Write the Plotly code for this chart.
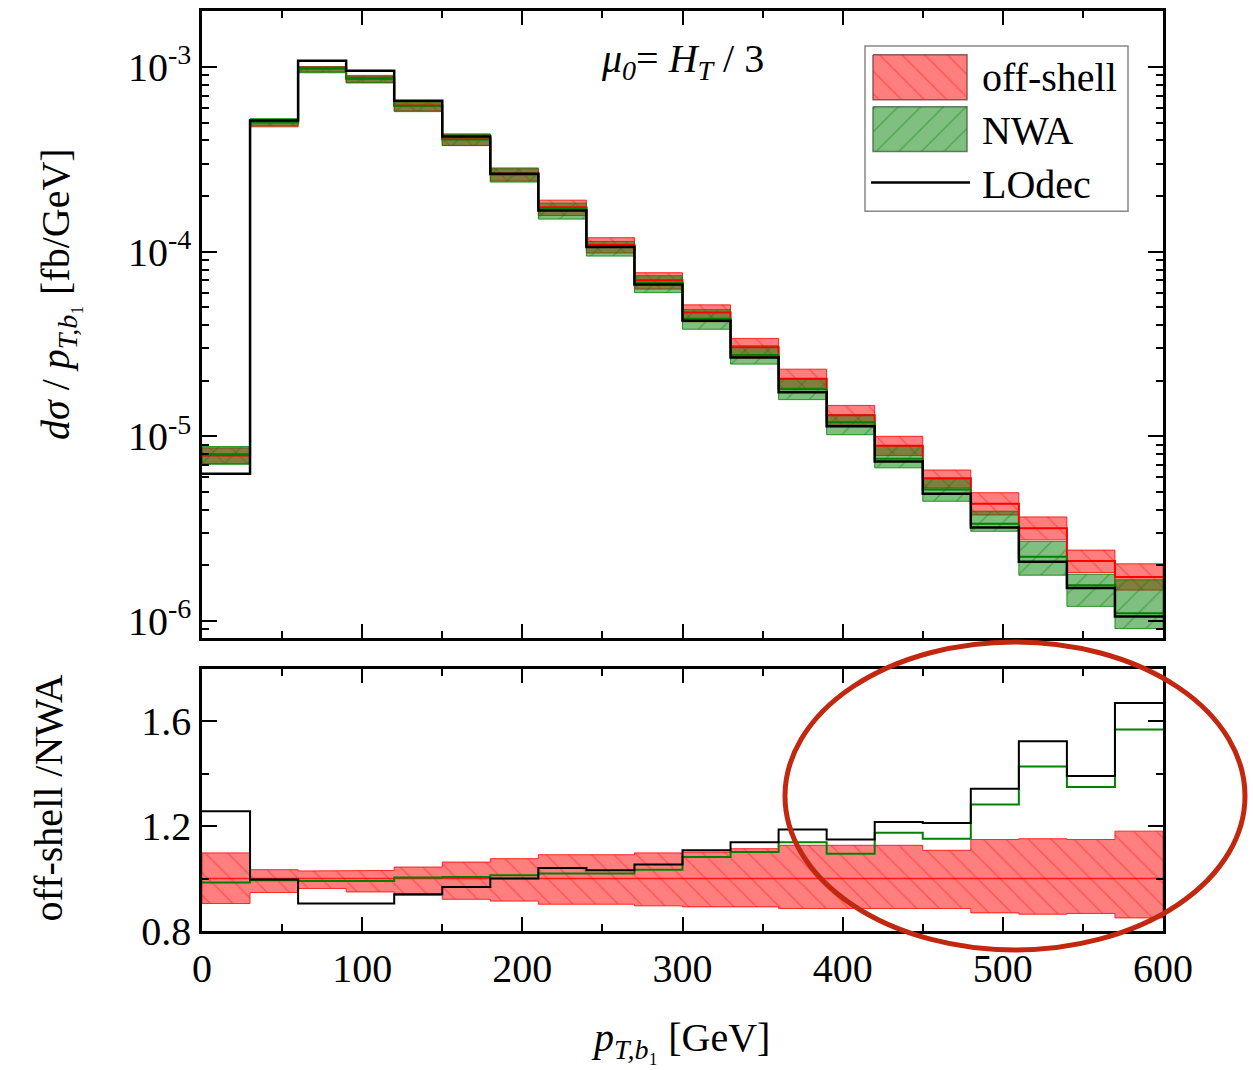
import plotly.graph_objects as go

# ---------------- data ----------------
edges = [0, 30, 60, 90, 120, 150, 180, 210, 240, 270, 300,
         330, 360, 390, 420, 450, 480, 510, 540, 570, 600]

offshell = [7.88e-6, 5.0e-4, 9.77e-4, 8.63e-4, 6.18e-4, 4.07e-4, 2.64e-4, 1.74e-4, 1.09e-4, 7.0e-5,
            4.68e-5, 3.04e-5, 2.05e-5, 1.30e-5, 8.89e-6, 5.93e-6, 4.31e-6, 3.18e-6, 2.11e-6, 1.73e-6]
offshell_hi = [8.65e-6, 5.17e-4, 1.005e-3, 8.90e-4, 6.45e-4, 4.33e-4, 2.84e-4, 1.90e-4, 1.19e-4, 7.69e-5,
               5.15e-5, 3.39e-5, 2.31e-5, 1.47e-5, 1.00e-5, 6.57e-6, 4.95e-6, 3.66e-6, 2.42e-6, 2.04e-6]
offshell_lo = [7.13e-6, 4.74e-4, 9.40e-4, 8.19e-4, 5.78e-4, 3.75e-4, 2.41e-4, 1.57e-4, 9.83e-5, 6.27e-5,
               4.17e-5, 2.71e-5, 1.82e-5, 1.15e-5, 7.88e-6, 5.25e-6, 3.75e-6, 2.75e-6, 1.83e-6, 1.47e-6]

nwa = [8.0e-6, 5.03e-4, 9.86e-4, 8.7e-4, 6.16e-4, 4.05e-4, 2.61e-4, 1.71e-4, 1.07e-4, 6.77e-5,
       4.33e-5, 2.76e-5, 1.80e-5, 1.19e-5, 7.57e-6, 5.15e-6, 3.36e-6, 2.23e-6, 1.56e-6, 1.10e-6]
nwa_hi = [8.8e-6, 5.25e-4, 1.0e-3, 9.0e-4, 6.4e-4, 4.33e-4, 2.81e-4, 1.83e-4, 1.135e-4, 7.4e-5,
          4.85e-5, 3.09e-5, 2.04e-5, 1.31e-5, 8.85e-6, 5.89e-6, 3.93e-6, 2.70e-6, 1.79e-6, 1.67e-6]
nwa_lo = [7.05e-6, 4.8e-4, 9.3e-4, 8.25e-4, 5.73e-4, 3.76e-4, 2.38e-4, 1.50e-4, 9.46e-5, 6.0e-5,
          3.80e-5, 2.46e-5, 1.58e-5, 1.02e-5, 6.75e-6, 4.45e-6, 3.06e-6, 1.77e-6, 1.20e-6, 9.1e-7]

lodec = [6.27e-6, 5.13e-4, 1.08e-3, 9.54e-4, 6.57e-4, 4.2e-4, 2.64e-4, 1.67e-4, 1.06e-4, 6.64e-5,
         4.22e-5, 2.67e-5, 1.73e-5, 1.135e-5, 7.31e-6, 4.89e-6, 3.21e-6, 2.09e-6, 1.51e-6, 1.057e-6]

# ratio panel (off-shell / X)
ratio_band_hi = [1.098, 1.034, 1.029, 1.031, 1.044, 1.063, 1.076, 1.091, 1.091, 1.098,
                 1.101, 1.114, 1.127, 1.127, 1.127, 1.108, 1.149, 1.152, 1.149, 1.181]
ratio_band_lo = [0.905, 0.947, 0.962, 0.949, 0.936, 0.921, 0.914, 0.902, 0.902, 0.896,
                 0.892, 0.892, 0.886, 0.886, 0.886, 0.886, 0.869, 0.864, 0.867, 0.850]
ratio_central = [1.0] * 20
ratio_nwa = [0.985, 0.994, 0.991, 0.991, 1.004, 1.006, 1.013, 1.019, 1.019, 1.034,
             1.082, 1.101, 1.139, 1.095, 1.175, 1.152, 1.283, 1.428, 1.349, 1.569]
ratio_lodec = [1.257, 0.996, 0.905, 0.905, 0.940, 0.968, 1.000, 1.040, 1.032, 1.054,
               1.108, 1.139, 1.187, 1.149, 1.216, 1.212, 1.343, 1.524, 1.391, 1.670]

y_tickvals = [1e-6, 1e-5, 1e-4, 1e-3]
y_ticktext = ["10<sup>-6</sup>", "10<sup>-5</sup>", "10<sup>-4</sup>", "10<sup>-3</sup>"]

# ---------------- styles ----------------
FONT = "Liberation Serif"
RED_FILL = "rgba(255,0,0,0.5)"
GREEN_FILL = "rgba(0,128,0,0.5)"
RED_PAT = dict(shape="\\", bgcolor=RED_FILL, fgcolor="rgba(255,0,0,0.75)", size=16, solidity=0.08)
GREEN_PAT = dict(shape="/", bgcolor=GREEN_FILL, fgcolor="rgba(0,120,0,0.8)", size=16, solidity=0.08)


def step(vals):
    return edges, list(vals) + [vals[-1]]


def boxes(lo, hi):
    xs, ys = [], []
    for i in range(len(lo)):
        x0, x1 = edges[i], edges[i + 1]
        xs += [x0, x1, x1, x0, x0, None]
        ys += [lo[i], lo[i], hi[i], hi[i], lo[i], None]
    return xs, ys


def band(lo, hi):
    xs, ys = [], []
    for i in range(len(hi)):
        xs += [edges[i], edges[i + 1]]
        ys += [hi[i], hi[i]]
    for i in reversed(range(len(lo))):
        xs += [edges[i + 1], edges[i]]
        ys += [lo[i], lo[i]]
    xs.append(xs[0])
    ys.append(ys[0])
    return xs, ys


fig = go.Figure()

# ---- top panel ----
bx, by = boxes(offshell_lo, offshell_hi)
fig.add_trace(go.Scatter(x=bx, y=by, mode="lines", fill="toself", fillcolor=RED_FILL,
                         fillpattern=RED_PAT, line=dict(color="rgba(255,0,0,0.8)", width=1),
                         xaxis="x", yaxis="y", showlegend=False, hoverinfo="skip"))
bx, by = boxes(nwa_lo, nwa_hi)
fig.add_trace(go.Scatter(x=bx, y=by, mode="lines", fill="toself", fillcolor=GREEN_FILL,
                         fillpattern=GREEN_PAT, line=dict(color="rgba(0,128,0,0.8)", width=1),
                         xaxis="x", yaxis="y", showlegend=False, hoverinfo="skip"))
sx, sy = step(offshell)
fig.add_trace(go.Scatter(x=sx, y=sy, mode="lines", line=dict(color="red", width=2, shape="hv"),
                         xaxis="x", yaxis="y", showlegend=False))
sx, sy = step(nwa)
fig.add_trace(go.Scatter(x=sx, y=sy, mode="lines", line=dict(color="green", width=2, shape="hv"),
                         xaxis="x", yaxis="y", showlegend=False))
sx, sy = step(lodec)
fig.add_trace(go.Scatter(x=sx, y=sy, mode="lines", line=dict(color="black", width=2.5, shape="hv"),
                         xaxis="x", yaxis="y", showlegend=False))

# ---- ratio panel ----
bx, by = band(ratio_band_lo, ratio_band_hi)
fig.add_trace(go.Scatter(x=bx, y=by, mode="lines", fill="toself", fillcolor=RED_FILL,
                         fillpattern=RED_PAT, line=dict(color="rgba(255,0,0,0.8)", width=1),
                         xaxis="x2", yaxis="y2", showlegend=False, hoverinfo="skip"))
sx, sy = step(ratio_central)
fig.add_trace(go.Scatter(x=sx, y=sy, mode="lines", line=dict(color="rgba(255,0,0,0.8)", width=1.5, shape="hv"),
                         xaxis="x2", yaxis="y2", showlegend=False))
sx, sy = step(ratio_nwa)
fig.add_trace(go.Scatter(x=sx, y=sy, mode="lines", line=dict(color="green", width=2, shape="hv"),
                         xaxis="x2", yaxis="y2", showlegend=False))
sx, sy = step(ratio_lodec)
fig.add_trace(go.Scatter(x=sx, y=sy, mode="lines", line=dict(color="black", width=2, shape="hv"),
                         xaxis="x2", yaxis="y2", showlegend=False))

# ---- hand-drawn legend on an invisible overlay axis (pixel-like units) ----
fig.add_trace(go.Scatter(x=[873, 967, 967, 873, 873], y=[52, 52, 97, 97, 52], mode="lines",
                         fill="toself", fillcolor=RED_FILL, fillpattern=RED_PAT,
                         line=dict(color="rgba(120,60,60,0.8)", width=1.5),
                         xaxis="x3", yaxis="y3", showlegend=False, hoverinfo="skip"))
fig.add_trace(go.Scatter(x=[873, 967, 967, 873, 873], y=[104, 104, 149, 149, 104], mode="lines",
                         fill="toself", fillcolor=GREEN_FILL, fillpattern=GREEN_PAT,
                         line=dict(color="rgba(60,100,60,0.8)", width=1.5),
                         xaxis="x3", yaxis="y3", showlegend=False, hoverinfo="skip"))
fig.add_trace(go.Scatter(x=[871, 970], y=[180, 180], mode="lines",
                         line=dict(color="black", width=2.5),
                         xaxis="x3", yaxis="y3", showlegend=False, hoverinfo="skip"))

axis_common = dict(showline=True, linecolor="black", linewidth=2.5, mirror="ticks",
                   ticks="inside", tickcolor="black", tickwidth=2, showgrid=False, zeroline=False,
                   tickfont=dict(family=FONT, size=40, color="black"))

fig.update_layout(
    width=1253, height=1070,
    margin=dict(l=202, r=90, t=8, b=139),
    paper_bgcolor="white", plot_bgcolor="rgba(0,0,0,0)",
    font=dict(family=FONT, size=40, color="black"),
    xaxis=dict(domain=[0, 1], anchor="y", range=[0, 600], tick0=0, dtick=100, ticklen=14,
               showticklabels=False,
               minor=dict(ticks="inside", dtick=50, ticklen=7, tickcolor="black", tickwidth=2, showgrid=False),
               **axis_common),
    yaxis=dict(domain=[0.3185, 1], anchor="x", type="log", range=[-6.092, -2.697],
               tickvals=y_tickvals, ticktext=y_ticktext, ticklen=15,
               minor=dict(ticks="inside", dtick="D1", ticklen=7, tickcolor="black", tickwidth=2, showgrid=False),
               **axis_common),
    xaxis2=dict(domain=[0, 1], anchor="y2", range=[0, 600], tick0=0, dtick=100, ticklen=14,
                minor=dict(ticks="inside", dtick=50, ticklen=7, tickcolor="black", tickwidth=2, showgrid=False),
                **axis_common),
    yaxis2=dict(domain=[0, 0.2849], anchor="x2", range=[0.8, 1.8], tick0=0.8, dtick=0.4, ticklen=15,
                tickformat=".1f",
                minor=dict(ticks="inside", dtick=0.2, tick0=0.8, ticklen=7, tickcolor="black", tickwidth=2, showgrid=False),
                **axis_common),
    xaxis3=dict(domain=[0, 1], anchor="y3", range=[202, 1163], visible=False, fixedrange=True),
    yaxis3=dict(domain=[0, 1], anchor="x3", range=[931, 8], visible=False, fixedrange=True),
)

# legend frame
fig.add_shape(type="rect", xref="x3", yref="y3", x0=865, x1=1128, y0=43, y1=209,
              line=dict(color="#888888", width=1.5), fillcolor="white", layer="below")

W, H = 961.0, 923.0


def px(x):
    return (x - 202) / W


def py(y):
    return (931 - y) / H


annots = [
    dict(x=px(980), y=py(75), text="off-shell", xanchor="left", yanchor="middle"),
    dict(x=px(980), y=py(128), text="NWA", xanchor="left", yanchor="middle"),
    dict(x=px(980), y=py(182), text="LOdec", xanchor="left", yanchor="middle"),
    dict(x=px(682), y=py(58), text="<i>μ</i><sub><i>0</i></sub>= <i>H</i><sub><i>T</i></sub> / 3",
         xanchor="center", yanchor="middle"),
    dict(x=px(58), y=py(292), text="<i>dσ</i> / <i>p</i><sub><i>T,b</i>₁</sub> [fb/GeV]",
         textangle=-90, xanchor="center", yanchor="middle"),
    dict(x=px(48), y=py(798), text="off-shell /NWA", textangle=-90, xanchor="center", yanchor="middle"),
    dict(x=px(680), y=py(1040), text="<i>p</i><sub><i>T,b</i>₁</sub> [GeV]", xanchor="center", yanchor="middle"),
]
for a in annots:
    fig.add_annotation(xref="paper", yref="paper", showarrow=False,
                       font=dict(family=FONT, size=40, color="black"), **a)

# highlight ellipse
fig.add_shape(type="circle", xref="paper", yref="paper",
              x0=px(785), x1=px(1245), y0=py(950), y1=py(641),
              line=dict(color="#c1280f", width=5), fillcolor="rgba(0,0,0,0)")

fig.write_html("out.html")
